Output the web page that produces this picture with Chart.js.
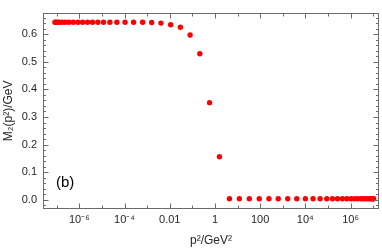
<!DOCTYPE html>
<html>
<head>
<meta charset="utf-8">
<script src="https://cdn.jsdelivr.net/npm/chart.js@4/dist/chart.umd.min.js"></script>
<style>
html,body{margin:0;padding:0;background:#fff;}
#wrap{width:382px;height:248px;}
</style>
</head>
<body>
<div id="wrap"><canvas id="c" width="382" height="248"></canvas></div>
<script>
// p^2 in GeV^2
const p2Values = [
  8.3e-8, 9.1e-8, 1.07e-7, 1.32e-7, 1.74e-7, 2.4e-7, 3.47e-7, 5.37e-7, 8.7e-7,
  1.38e-6, 2.29e-6, 3.8e-6, 6.6e-6, 1.17e-5, 2.24e-5, 4.57e-5, 1.05e-4, 2.51e-4,
  6.3e-4, 1.58e-3, 4.07e-3, 0.011, 0.0295, 0.0794, 0.214, 0.575, 1.58, 4.37,
  12.0, 33.1, 91.2, 245, 631, 1660, 4170, 1.0e4, 2.19e4, 4.47e4, 8.9e4, 1.58e5,
  2.63e5, 4.37e5, 6.9e5, 1.05e6, 1.51e6, 2.09e6, 2.88e6, 3.72e6, 4.68e6, 5.75e6,
  6.92e6, 8.13e6, 9.12e6, 1.0e7, 1.05e7
];
// M2(p^2) in GeV
const m2Values = [
  0.643, 0.643, 0.643, 0.643, 0.643, 0.643, 0.643, 0.643, 0.643,
  0.643, 0.643, 0.643, 0.643, 0.643, 0.643, 0.643, 0.643, 0.643,
  0.643, 0.642, 0.640, 0.634, 0.625, 0.597, 0.529, 0.352, 0.156, 0.004,
  0.004, 0.004, 0.004, 0.004, 0.004, 0.004, 0.004, 0.004, 0.004, 0.004, 0.004, 0.004,
  0.004, 0.004, 0.004, 0.004, 0.004, 0.004, 0.004, 0.004, 0.004, 0.004,
  0.004, 0.004, 0.004, 0.004, 0.004
];
const xTickValues = [1e-7,1e-6,1e-5,1e-4,1e-3,1e-2,1e-1,1,10,100,1e3,1e4,1e5,1e6,1e7];
const xTickLabels = {1e-6:'10⁻⁶', 1e-4:'10⁻⁴', 1e-2:'0.01', 1:'1', 100:'100', 1e4:'10⁴', 1e6:'10⁶'};
const yTickValues = [0, 0.1, 0.2, 0.3, 0.4, 0.5, 0.6];
const xTitle = 'p²/GeV²';
const yTitle = 'M₂(p²)/GeV';
const panelLabel = '(b)';

const FONT = "'Liberation Sans', Arial, sans-serif";
const FRAME = '#6b6b6b';
const TXT = '#262626';

const framePlugin = {
  id: 'frame',
  afterDraw(chart) {
    const {ctx, chartArea: a, scales: {x, y}} = chart;
    ctx.save();
    ctx.strokeStyle = FRAME;
    ctx.lineWidth = 1;
    const L = Math.round(a.left) + 0.5, R = Math.round(a.right) - 0.5;
    const T = Math.round(a.top) + 0.5, B = Math.round(a.bottom) - 0.5;
    ctx.strokeRect(L, T, R - L, B - T);
    ctx.beginPath();
    // y ticks
    for (let k = -1; k <= 33; k++) {
      const v = k * 0.02;
      if (v < y.min || v > y.max) continue;
      const py = Math.round(y.getPixelForValue(v)) + 0.5;
      const len = (k % 5 === 0) ? 5 : 2.5;
      ctx.moveTo(L, py); ctx.lineTo(L + len, py);
      ctx.moveTo(R, py); ctx.lineTo(R - len, py);
    }
    // x ticks
    xTickValues.forEach(v => {
      const px = Math.round(x.getPixelForValue(v)) + 0.5;
      const len = xTickLabels[v] !== undefined ? 5 : 3;
      ctx.moveTo(px, B); ctx.lineTo(px, B - len);
      ctx.moveTo(px, T); ctx.lineTo(px, T + len);
    });
    ctx.stroke();
    // panel label
    ctx.fillStyle = '#000';
    ctx.font = '15px ' + FONT;
    ctx.textAlign = 'left';
    ctx.textBaseline = 'middle';
    ctx.fillText(panelLabel, a.left + 13, 183);
    ctx.restore();
  }
};

new Chart(document.getElementById('c'), {
  type: 'scatter',
  data: {
    datasets: [{
      data: p2Values.map((p, i) => ({x: p, y: m2Values[i]})),
      backgroundColor: '#ff0000',
      borderWidth: 0,
      pointRadius: 2.7,
      pointHoverRadius: 2.7
    }]
  },
  options: {
    responsive: false,
    animation: false,
    events: [],
    layout: {padding: {top: 1, right: 3, left: 0, bottom: 0}},
    plugins: {legend: {display: false}, tooltip: {enabled: false}},
    scales: {
      x: {
        type: 'logarithmic',
        min: Math.pow(10, -7.61),
        max: Math.pow(10, 7.26),
        border: {display: false},
        grid: {display: false, drawTicks: false},
        afterBuildTicks: s => { s.ticks = xTickValues.map(v => ({value: v})); },
        afterFit: s => { s.height = 39; },
        ticks: {
          autoSkip: false, maxRotation: 0, padding: 4,
          color: TXT, font: {family: FONT, size: 11},
          callback: v => xTickLabels[v] !== undefined ? xTickLabels[v] : ''
        },
        title: {display: true, text: xTitle, color: TXT, font: {family: FONT, size: 12}, padding: {top: 0, bottom: 0}}
      },
      y: {
        min: -0.033,
        max: 0.678,
        border: {display: false},
        grid: {display: false, drawTicks: false},
        afterBuildTicks: s => { s.ticks = yTickValues.map(v => ({value: v})); },
        afterFit: s => { s.width = 43; },
        ticks: {
          padding: 6, color: TXT, font: {family: FONT, size: 11},
          callback: v => Number(v).toFixed(1)
        },
        title: {display: true, text: yTitle, color: TXT, font: {family: FONT, size: 12}, padding: {top: 1, bottom: 0}}
      }
    }
  },
  plugins: [framePlugin]
});
</script>
</body>
</html>
